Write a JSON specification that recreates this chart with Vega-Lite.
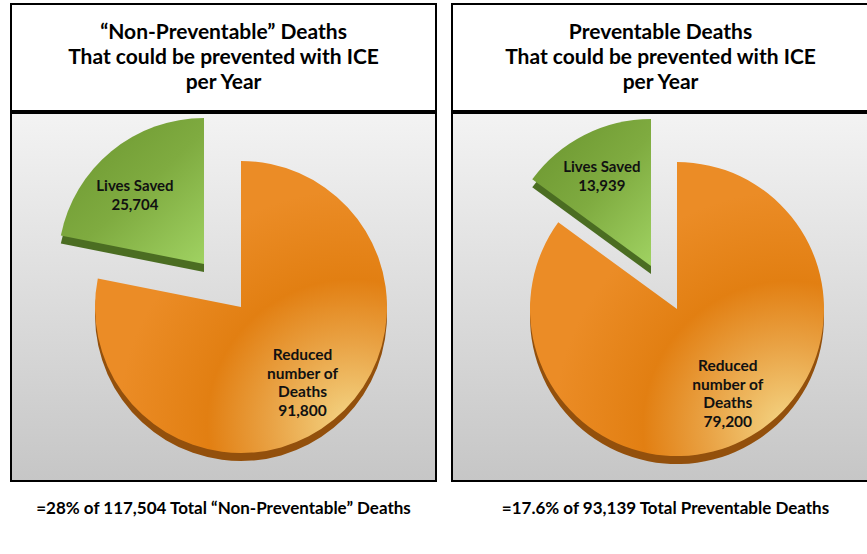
{
  "$schema": "https://vega.github.io/schema/vega-lite/v6.json",
  "background": "white",
  "padding": {"left": 10, "top": 3, "right": 0, "bottom": 0},
  "spacing": 14,
  "config": {"font": "Lato"},
  "hconcat": [
    {
      "spacing": 0,
      "vconcat": [
        {
          "width": 425,
          "height": 107,
          "view": {"stroke": "#000000", "strokeWidth": 2, "fill": "#ffffff"},
          "data": {"values": [{"title": "“Non-Preventable” Deaths\nThat could be prevented with ICE\nper Year"}]},
          "mark": {"type": "text", "font": "Lato", "fontWeight": "bold", "fontSize": 21, "lineBreak": "\n", "lineHeight": 25, "color": "#000000", "baseline": "middle", "align": "center", "dy": -25},
          "encoding": {"text": {"field": "title", "type": "nominal"}}
        },
        {
          "width": 425,
          "height": 368,
          "view": {"stroke": "#000000", "strokeWidth": 2, "fill": {"gradient": "linear", "x1": 0, "y1": 0, "x2": 0, "y2": 1, "stops": [{"offset": 0, "color": "#f3f3f3"}, {"offset": 1, "color": "#c6c6c6"}]}},
          "title": {"text": "=28% of 117,504 Total “Non-Preventable” Deaths", "orient": "bottom", "anchor": "middle", "font": "Lato", "fontSize": 17, "fontWeight": "bold", "color": "#000000", "offset": 20},
          "data": {"values": [
            {"k": 1, "part": "Reduced number of Deaths", "deaths": 91800, "label": "Reduced\nnumber of\nDeaths\n91,800"},
            {"k": 2, "part": "Lives Saved", "deaths": 25704, "label": "Lives Saved\n25,704"}
          ]},
          "encoding": {
            "theta": {"field": "deaths", "type": "quantitative", "stack": true},
            "order": {"field": "k", "type": "quantitative"}
          },
          "layer": [
            {
              "mark": {"type": "arc", "radius": 146, "xOffset": 17.5, "yOffset": 18, "fill": "#93500c"},
              "encoding": {"opacity": {"condition": {"test": "datum.k === 1", "value": 1}, "value": 0}}
            },
            {
              "mark": {"type": "arc", "radius": 146, "xOffset": 17.5, "yOffset": 10, "fill": {"gradient": "radial", "x1": 0.88, "y1": 0.9, "r1": 0, "x2": 0.88, "y2": 0.9, "r2": 0.8, "stops": [{"offset": 0, "color": "#f4d686"}, {"offset": 0.35, "color": "#e9a244"}, {"offset": 0.62, "color": "#e27f12"}, {"offset": 1, "color": "#eb8c26"}]}},
              "encoding": {"opacity": {"condition": {"test": "datum.k === 1", "value": 1}, "value": 0}}
            },
            {
              "mark": {"type": "arc", "radius": 146, "xOffset": -19.5, "yOffset": -25, "fill": "#4b6d22"},
              "encoding": {"opacity": {"condition": {"test": "datum.k === 2", "value": 1}, "value": 0}}
            },
            {
              "mark": {"type": "arc", "radius": 146, "xOffset": -19.5, "yOffset": -33, "fill": {"gradient": "linear", "x1": 0.1, "y1": 0, "x2": 1, "y2": 1, "stops": [{"offset": 0, "color": "#6c9630"}, {"offset": 0.5, "color": "#7fab40"}, {"offset": 1, "color": "#a0d262"}]}},
              "encoding": {"opacity": {"condition": {"test": "datum.k === 2", "value": 1}, "value": 0}}
            },
            {
              "mark": {"type": "text", "radius": 97, "xOffset": 17.5, "yOffset": 10, "dy": -27, "font": "Lato", "fontWeight": "bold", "fontSize": 15.5, "lineBreak": "\n", "lineHeight": 18.6, "color": "#111111", "baseline": "middle", "align": "center"},
              "encoding": {
                "text": {"field": "label", "type": "nominal"},
                "opacity": {"condition": {"test": "datum.k === 1", "value": 1}, "value": 0}
              }
            },
            {
              "mark": {"type": "text", "radius": 97, "xOffset": -27, "yOffset": -27, "dy": -9.5, "font": "Lato", "fontWeight": "bold", "fontSize": 15, "lineBreak": "\n", "lineHeight": 19, "color": "#111111", "baseline": "middle", "align": "center"},
              "encoding": {
                "text": {"field": "label", "type": "nominal"},
                "opacity": {"condition": {"test": "datum.k === 2", "value": 1}, "value": 0}
              }
            }
          ]
        }
      ]
    },
    {
      "spacing": 0,
      "vconcat": [
        {
          "width": 417,
          "height": 107,
          "view": {"stroke": "#000000", "strokeWidth": 2, "fill": "#ffffff"},
          "data": {"values": [{"title": "Preventable Deaths\nThat could be prevented with ICE\nper Year"}]},
          "mark": {"type": "text", "font": "Lato", "fontWeight": "bold", "fontSize": 21, "lineBreak": "\n", "lineHeight": 25, "color": "#000000", "baseline": "middle", "align": "center", "dy": -25},
          "encoding": {"text": {"field": "title", "type": "nominal"}}
        },
        {
          "width": 417,
          "height": 368,
          "view": {"stroke": "#000000", "strokeWidth": 2, "fill": {"gradient": "linear", "x1": 0, "y1": 0, "x2": 0, "y2": 1, "stops": [{"offset": 0, "color": "#f3f3f3"}, {"offset": 1, "color": "#c6c6c6"}]}},
          "title": {"text": "=17.6% of 93,139 Total Preventable Deaths", "orient": "bottom", "anchor": "middle", "font": "Lato", "fontSize": 17, "fontWeight": "bold", "color": "#000000", "offset": 20, "dx": 5},
          "data": {"values": [
            {"k": 1, "part": "Reduced number of Deaths", "deaths": 79200, "label": "Reduced\nnumber of\nDeaths\n79,200"},
            {"k": 2, "part": "Lives Saved", "deaths": 13939, "label": "Lives Saved\n13,939"}
          ]},
          "encoding": {
            "theta": {"field": "deaths", "type": "quantitative", "stack": true},
            "order": {"field": "k", "type": "quantitative"}
          },
          "layer": [
            {
              "mark": {"type": "arc", "radius": 147, "xOffset": 16.5, "yOffset": 20, "fill": "#93500c"},
              "encoding": {"opacity": {"condition": {"test": "datum.k === 1", "value": 1}, "value": 0}}
            },
            {
              "mark": {"type": "arc", "radius": 147, "xOffset": 16.5, "yOffset": 12, "fill": {"gradient": "radial", "x1": 0.88, "y1": 0.9, "r1": 0, "x2": 0.88, "y2": 0.9, "r2": 0.8, "stops": [{"offset": 0, "color": "#f4d686"}, {"offset": 0.35, "color": "#e9a244"}, {"offset": 0.62, "color": "#e27f12"}, {"offset": 1, "color": "#eb8c26"}]}},
              "encoding": {"opacity": {"condition": {"test": "datum.k === 1", "value": 1}, "value": 0}}
            },
            {
              "mark": {"type": "arc", "radius": 147, "xOffset": -9.5, "yOffset": -23, "fill": "#4b6d22"},
              "encoding": {"opacity": {"condition": {"test": "datum.k === 2", "value": 1}, "value": 0}}
            },
            {
              "mark": {"type": "arc", "radius": 147, "xOffset": -9.5, "yOffset": -31, "fill": {"gradient": "linear", "x1": 0.1, "y1": 0, "x2": 1, "y2": 1, "stops": [{"offset": 0, "color": "#6c9630"}, {"offset": 0.5, "color": "#7fab40"}, {"offset": 1, "color": "#a0d262"}]}},
              "encoding": {"opacity": {"condition": {"test": "datum.k === 2", "value": 1}, "value": 0}}
            },
            {
              "mark": {"type": "text", "radius": 100, "xOffset": 22, "yOffset": 7, "dy": -27, "font": "Lato", "fontWeight": "bold", "fontSize": 15.5, "lineBreak": "\n", "lineHeight": 18.6, "color": "#111111", "baseline": "middle", "align": "center"},
              "encoding": {
                "text": {"field": "label", "type": "nominal"},
                "opacity": {"condition": {"test": "datum.k === 1", "value": 1}, "value": 0}
              }
            },
            {
              "mark": {"type": "text", "radius": 103, "xOffset": -12, "yOffset": -29, "dy": -9.5, "font": "Lato", "fontWeight": "bold", "fontSize": 15, "lineBreak": "\n", "lineHeight": 19, "color": "#111111", "baseline": "middle", "align": "center"},
              "encoding": {
                "text": {"field": "label", "type": "nominal"},
                "opacity": {"condition": {"test": "datum.k === 2", "value": 1}, "value": 0}
              }
            }
          ]
        }
      ]
    }
  ]
}
